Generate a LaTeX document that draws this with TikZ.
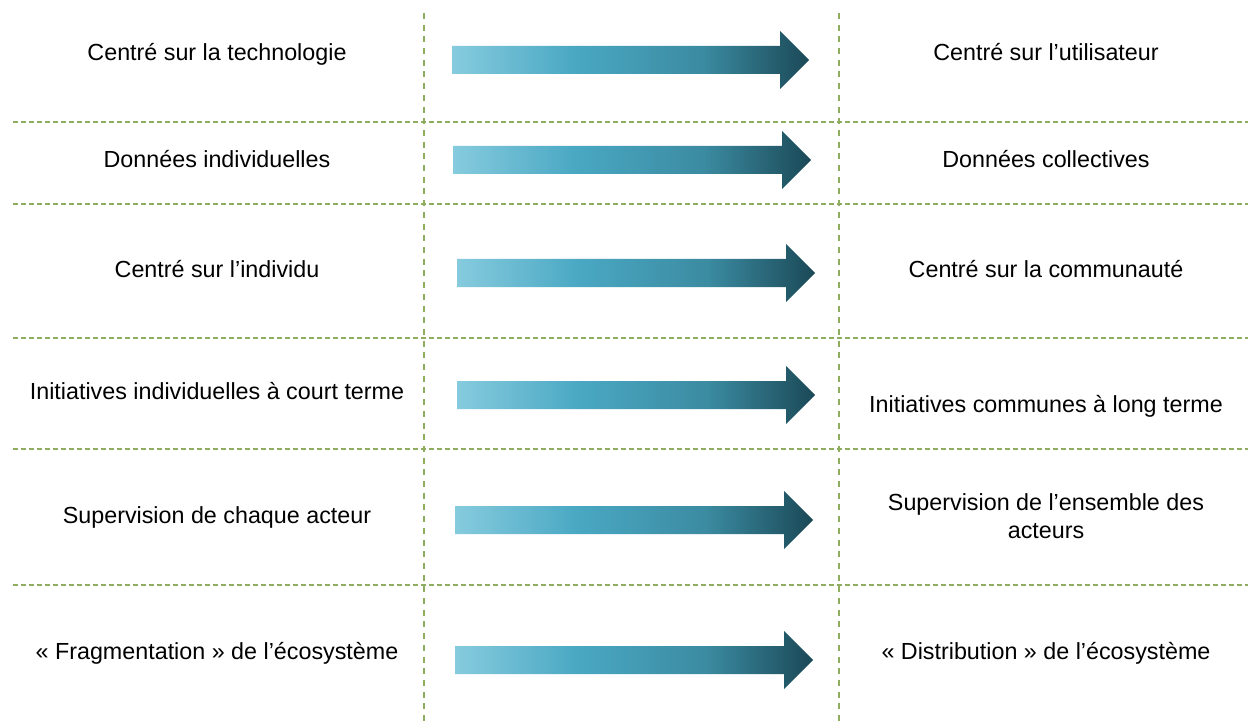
\documentclass[tikz,border=0pt]{standalone}
\usepackage{fontspec}
\setmainfont{Liberation Sans}
\definecolor{gridgreen}{HTML}{8FAD5F}
\definecolor{arrA}{HTML}{86CBDE}
\definecolor{arrB}{HTML}{4AA8C3}
\definecolor{arrC}{HTML}{3B8BA1}
\definecolor{arrD}{HTML}{1B4957}
\pgfdeclarehorizontalshading{flowgrad}{100bp}{color(0bp)=(arrA); color(25bp)=(arrA); color(42bp)=(arrB); color(60bp)=(arrC); color(75bp)=(arrD); color(100bp)=(arrD)}
\tikzset{
  hline/.style={draw=gridgreen, line width=1.5pt, dash pattern=on 4.5pt off 3.5pt},
  vline/.style={draw=gridgreen, line width=1.8pt, dash pattern=on 6pt off 5.7pt},
  label/.style={font=\fontsize{23.3}{27.5}\selectfont, text=black, align=center, inner sep=0pt, anchor=base},
  flow/.style={shading=flowgrad, draw=none}
}
% block arrow: start x, tip x, centre y
\newcommand\blockarrow[3]{%
  \path[flow] (#1,#3-14) -- (#2-29,#3-14) -- (#2-29,#3-29) -- (#2,#3)
    -- (#2-29,#3+29) -- (#2-29,#3+14) -- (#1,#3+14) -- cycle;}
\begin{document}
\begin{tikzpicture}[x=1pt,y=-1pt]
\useasboundingbox (0,0) rectangle (1248,722);
\fill[white] (0,0) rectangle (1248,722);
% grid
\foreach \y in {122,204,338,449,585}
  \draw[hline] (13,\y) -- (1248,\y);
\draw[vline] (424,13) -- (424,722);
\draw[vline] (839,13) -- (839,722);
% arrows
\blockarrow{452}{809}{60}
\blockarrow{453}{811}{160}
\blockarrow{457}{815}{273}
\blockarrow{457}{815}{395}
\blockarrow{455}{813}{520}
\blockarrow{455}{813}{660}
% left column
\node[label] (l1) at (217,61) {Centré sur la technologie};
\node[label] (l2) at (217,168) {Données individuelles};
\node[label] (l3) at (217,277) {Centré sur l’individu};
\node[label] (l4) at (217,399) {Initiatives individuelles à court terme};
\node[label] (l5) at (217,523) {Supervision de chaque acteur};
\node[label] (l6) at (217,659) {« Fragmentation » de l’écosystème};
% right column
\node[label] (r1) at (1046,61) {Centré sur l’utilisateur};
\node[label] (r2) at (1046,168) {Données collectives};
\node[label] (r3) at (1046,277) {Centré sur la communauté};
\node[label] (r4) at (1046,412) {Initiatives communes à long terme};
\node[label, anchor=center] (r5) at (1046,516) {Supervision de l’ensemble des\\acteurs};
\node[label] (r6) at (1046,659) {« Distribution » de l’écosystème};
\end{tikzpicture}
\end{document}
